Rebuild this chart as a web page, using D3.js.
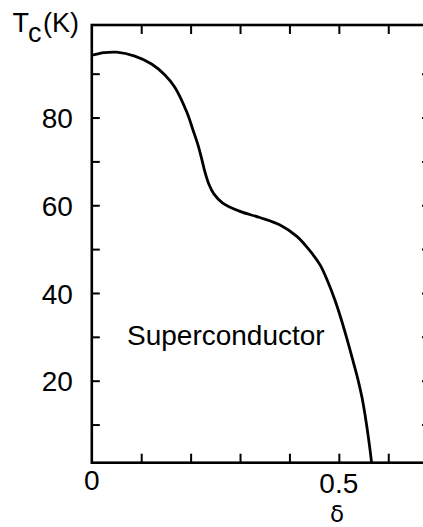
<!DOCTYPE html>
<html>
<head>
<meta charset="utf-8">
<script src="https://cdn.jsdelivr.net/npm/d3@7/dist/d3.min.js"></script>
<style>
  html, body { margin: 0; padding: 0; background: #fff; }
  svg { display: block; }
  text { font-family: "Liberation Sans", Arial, Helvetica, sans-serif; fill: #000; }
</style>
</head>
<body>
<svg id="chart" width="423" height="527"></svg>
<script>
// Tc versus oxygen deficiency delta
const delta = [0.000, 0.025, 0.050, 0.087, 0.121, 0.148, 0.168, 0.192, 0.205, 0.215,
               0.223, 0.229, 0.237, 0.247, 0.265, 0.300, 0.340, 0.381, 0.415, 0.438,
               0.462, 0.478, 0.492, 0.504, 0.516, 0.527, 0.538, 0.547, 0.554, 0.560,
               0.566, 0.567];
const tc =    [94.2, 94.8, 94.9, 94.0, 92.2, 89.7, 86.9, 81.3, 77.1, 73.7,
               70.3, 67.6, 64.8, 62.6, 60.5, 58.6, 57.2, 55.5, 52.9, 50.1,
               46.4, 42.5, 38.4, 34.3, 29.7, 25.2, 20.6, 16.1, 11.5, 6.9,
               1.5, 0.0];

const xTicks = [0.1, 0.2, 0.3, 0.4, 0.5, 0.6];
const xTickLabels = ["0", "0.5"];
const xTickLabelValues = [0, 0.5];
const yTicks = [10, 20, 30, 40, 50, 60, 70, 80, 90];
const yTickLabels = [20, 40, 60, 80];
const regionLabel = "Superconductor";
const xTitle = "δ";

const svg = d3.select("#chart");
const frame = { left: 91.8, right: 430, top: 25, bottom: 462.7 };

const x = d3.scaleLinear().domain([0, 0.6845]).range([frame.left, frame.right]);
const y = d3.scaleLinear().domain([1.3, 101.1]).range([frame.bottom, frame.top]);

const FONT = 28;

// curve, clipped to the frame
svg.append("clipPath").attr("id", "plot")
  .append("rect").attr("x", frame.left).attr("y", frame.top)
  .attr("width", frame.right - frame.left).attr("height", frame.bottom - frame.top);

const line = d3.line()
  .x((d, i) => x(delta[i]))
  .y((d, i) => y(tc[i]))
  .curve(d3.curveCatmullRom.alpha(0.5));

svg.append("path")
  .datum(tc)
  .attr("clip-path", "url(#plot)")
  .attr("d", line)
  .attr("fill", "none")
  .attr("stroke", "#000")
  .attr("stroke-width", 2.8)
  .attr("stroke-linejoin", "round");

// axes with inward ticks
function styleAxis(g) {
  g.select(".domain").remove();
  g.selectAll(".tick line").attr("stroke", "#000").attr("stroke-width", 2);
  g.selectAll("text").style("font-size", FONT + "px")
    .attr("font-family", "Liberation Sans, Arial, sans-serif").attr("fill", "#000");
}

const labelSet = new Set(yTickLabels);
svg.append("g")
  .attr("transform", `translate(${frame.left},0)`)
  .call(d3.axisLeft(y).tickValues(yTicks).tickSize(-8).tickPadding(19)
        .tickFormat(d => labelSet.has(d) ? String(d) : ""))
  .call(styleAxis)
  .call(g => g.selectAll("text").attr("dy", "0.36em"));

svg.append("g")
  .attr("transform", `translate(${frame.right},0)`)
  .call(d3.axisRight(y).tickValues(yTicks).tickSize(-8).tickFormat(""))
  .call(styleAxis);

svg.append("g")
  .attr("transform", `translate(0,${frame.bottom})`)
  .call(d3.axisBottom(x).tickValues(xTicks).tickSize(-9).tickFormat(""))
  .call(styleAxis);

svg.append("g")
  .attr("transform", `translate(0,${frame.top})`)
  .call(d3.axisTop(x).tickValues(xTicks).tickSize(-9).tickFormat(""))
  .call(styleAxis);

// frame
svg.append("rect")
  .attr("x", frame.left).attr("y", frame.top)
  .attr("width", frame.right - frame.left).attr("height", frame.bottom - frame.top)
  .attr("fill", "none").attr("stroke", "#000").attr("stroke-width", 2.6);

// x tick labels
const xLabelBaseline = [490, 493];
svg.selectAll("text.xlab")
  .data(xTickLabels)
  .join("text")
  .attr("class", "xlab")
  .attr("x", (d, i) => x(xTickLabelValues[i]))
  .attr("y", (d, i) => xLabelBaseline[i])
  .attr("text-anchor", "middle")
  .style("font-size", FONT + "px")
  .text(d => d);

// x title
svg.append("text")
  .attr("x", 337).attr("y", 521.5)
  .attr("text-anchor", "middle")
  .style("font-family", "'DejaVu Sans', sans-serif")
  .style("font-size", "23px")
  .text(xTitle);

// y title: T_c(K)
const yt = svg.append("text").attr("y", 31.7).style("font-size", "27px");
yt.append("tspan").attr("x", 12.5).text("T");
yt.append("tspan").attr("x", 28).attr("dy", 10).text("c");
yt.append("tspan").attr("x", 43).attr("dy", -10).text("(K)");

// region label
svg.append("text")
  .attr("x", 127).attr("y", 345)
  .style("font-size", FONT + "px")
  .text(regionLabel);
</script>
</body>
</html>
